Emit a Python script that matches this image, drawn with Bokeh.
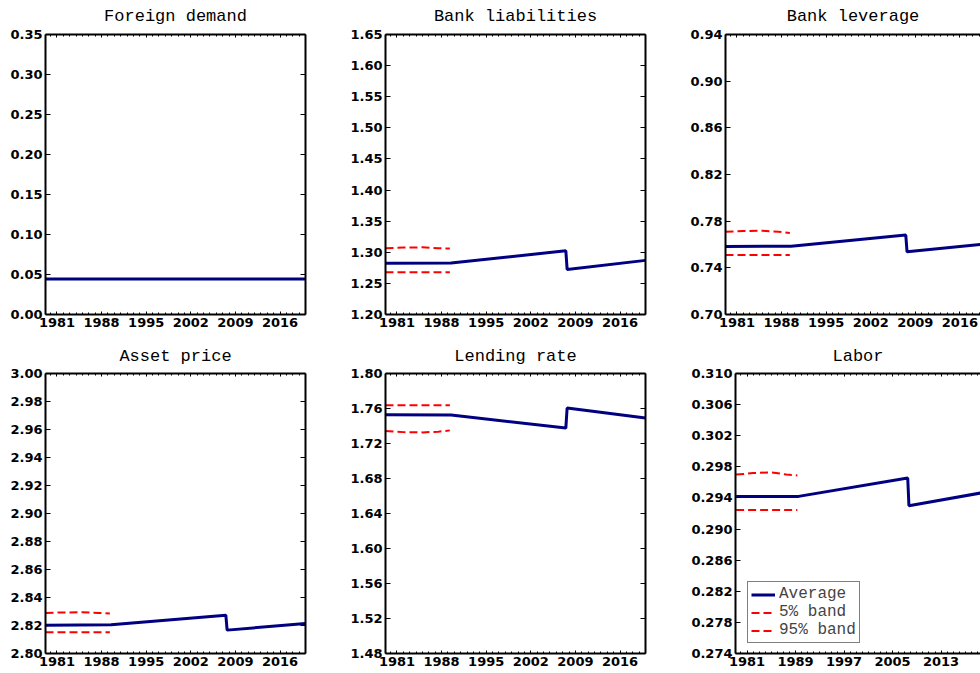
from bokeh.plotting import figure
from bokeh.layouts import column, row
from bokeh.models import (Range1d, FixedTicker, PrintfTickFormatter, LinearAxis,
                          Legend, LegendItem, Title)
from bokeh.embed import file_html
from bokeh.resources import INLINE

# ---------------- data ----------------
years_avg = [1979.2, 1989.5, 2007.5, 2007.7, 2020.0]
years_band = [1979.2, 1982.0, 1985.0, 1987.5, 1989.3]
year_ticks_7 = [1981, 1988, 1995, 2002, 2009, 2016]
year_ticks_8 = [1981, 1989, 1997, 2005, 2013]
minor_years = list(range(1979, 2021))

titles = ["Foreign demand", "Bank liabilities", "Bank leverage",
          "Asset price", "Lending rate", "Labor"]

foreign_avg = [0.0445, 0.0445, 0.0445, 0.0445, 0.0445]

liab_avg = [1.2824, 1.2828, 1.3024, 1.2725, 1.2870]
liab_lo = [1.2680, 1.2680, 1.2680, 1.2680, 1.2680]
liab_hi = [1.3065, 1.3075, 1.3080, 1.3065, 1.3060]

lev_avg = [0.7583, 0.7585, 0.7681, 0.7537, 0.7604]
lev_lo = [0.7511, 0.7511, 0.7511, 0.7511, 0.7511]
lev_hi = [0.7709, 0.7715, 0.7718, 0.7710, 0.7698]

asset_avg = [2.8202, 2.8205, 2.8274, 2.8167, 2.8214]
asset_lo = [2.8152, 2.8152, 2.8152, 2.8152, 2.8152]
asset_hi = [2.8290, 2.8293, 2.8295, 2.8290, 2.8286]

lend_avg = [1.7529, 1.7525, 1.7376, 1.7606, 1.7491]
lend_lo = [1.7342, 1.7330, 1.7327, 1.7335, 1.7350]
lend_hi = [1.7636, 1.7636, 1.7636, 1.7636, 1.7636]

labor_avg = [0.29418, 0.29420, 0.29657, 0.29300, 0.29470]
labor_lo = [0.29246, 0.29246, 0.29246, 0.29246, 0.29246]
labor_hi = [0.29700, 0.29720, 0.29730, 0.29700, 0.29690]

yt_foreign = [0.00, 0.05, 0.10, 0.15, 0.20, 0.25, 0.30, 0.35]
yt_liab = [1.20, 1.25, 1.30, 1.35, 1.40, 1.45, 1.50, 1.55, 1.60, 1.65]
yt_lev = [0.70, 0.74, 0.78, 0.82, 0.86, 0.90, 0.94]
yt_asset = [2.80, 2.82, 2.84, 2.86, 2.88, 2.90, 2.92, 2.94, 2.96, 2.98, 3.00]
yt_lend = [1.48, 1.52, 1.56, 1.60, 1.64, 1.68, 1.72, 1.76, 1.80]
yt_labor = [0.274, 0.278, 0.282, 0.286, 0.290, 0.294, 0.298, 0.302, 0.306, 0.310]

NAVY = "#000080"
RED = "#ff0000"
TICK_FONT = "DejaVu Sans"
TITLE_FONT = "Liberation Mono"
FULL_XR = (1979.2, 2020.0)


def style_axis(ax, labels, tick_in, minor_in=0):
    ax.axis_line_width = 2
    ax.axis_line_color = "black"
    ax.major_tick_in = tick_in
    ax.major_tick_out = 0
    ax.minor_tick_in = minor_in
    ax.minor_tick_out = 0
    ax.major_tick_line_color = "black"
    ax.minor_tick_line_color = "black"
    ax.major_tick_line_width = 1
    ax.minor_tick_line_width = 1
    if labels:
        ax.major_label_text_font = TICK_FONT
        ax.major_label_text_font_size = "13px"
        ax.major_label_text_font_style = "bold"
        ax.major_label_text_color = "black"
        ax.major_label_standoff = 3
    else:
        ax.major_label_text_font_size = "0px"
        ax.major_label_text_alpha = 0
        ax.major_label_standoff = 0


def panel(title, avg, lo, hi, yticks, fmt, xr, xticks, mb_left, frame_w,
          mb_right, mb_top, mb_bottom, title_standoff, right_axis=True,
          legend=False, title_offset=0):
    p = figure(frame_width=frame_w, frame_height=280,
               min_border_left=mb_left, min_border_right=mb_right,
               min_border_top=mb_top, min_border_bottom=mb_bottom,
               x_range=Range1d(xr[0], xr[1]),
               y_range=Range1d(yticks[0], yticks[-1]),
               x_axis_location=None, y_axis_location=None,
               output_backend="svg", toolbar_location=None, title=None)
    p.outline_line_color = None
    p.background_fill_color = "white"
    p.border_fill_color = "white"
    p.xgrid.visible = False
    p.ygrid.visible = False

    xt = FixedTicker(ticks=xticks, minor_ticks=minor_years)
    yt = FixedTicker(ticks=yticks, minor_ticks=[])

    bx = LinearAxis(ticker=xt)
    style_axis(bx, True, 3, 2)
    p.add_layout(bx, "below")
    ly = LinearAxis(ticker=yt, formatter=PrintfTickFormatter(format=fmt))
    style_axis(ly, True, 5)
    p.add_layout(ly, "left")
    ax = LinearAxis(ticker=xt)
    style_axis(ax, False, 3, 2)
    p.add_layout(ax, "above")
    if right_axis:
        ry = LinearAxis(ticker=yt)
        style_axis(ry, False, 5)
        p.add_layout(ry, "right")

    p.add_layout(Title(text=title, align="center", text_font=TITLE_FONT,
                       text_font_size="17px", text_font_style="normal",
                       text_color="black", standoff=title_standoff,
                       vertical_align="top", offset=title_offset), "above")

    r_avg = p.line(years_avg, avg, line_color=NAVY, line_width=3)
    items = [LegendItem(label="Average", renderers=[r_avg])]
    if lo is not None:
        r_lo = p.line(years_band, lo, line_color=RED, line_width=2,
                      line_dash="8 4")
        r_hi = p.line(years_band, hi, line_color=RED, line_width=2,
                      line_dash="8 4")
        items += [LegendItem(label="5% band", renderers=[r_lo]),
                  LegendItem(label="95% band", renderers=[r_hi])]
    if legend:
        lg = Legend(items=items, location=(12, 10),
                    label_text_font=TITLE_FONT, label_text_font_size="16px",
                    label_text_line_height=0.75,
                    border_line_color="black", border_line_width=1,
                    background_fill_color="white", background_fill_alpha=1,
                    padding=3, spacing=0, margin=0, glyph_width=24,
                    glyph_height=15, label_height=15, label_standoff=4)
        p.add_layout(lg)
    return p


p1 = panel(titles[0], foreign_avg, None, None, yt_foreign, "%.2f", FULL_XR,
           year_ticks_7, 45, 260, 25, 34, 26, 13)
p2 = panel(titles[1], liab_avg, liab_lo, liab_hi, yt_liab, "%.2f", FULL_XR,
           year_ticks_7, 55, 260, 25, 34, 26, 13)
p3 = panel(titles[2], lev_avg, lev_lo, lev_hi, yt_lev, "%.2f",
           (1979.2, 2019.23), year_ticks_7, 55, 255, 0, 34, 26, 13,
           right_axis=False, title_offset=3)
p4 = panel(titles[3], asset_avg, asset_lo, asset_hi, yt_asset, "%.2f", FULL_XR,
           year_ticks_7, 45, 260, 25, 33, 20, 12)
p5 = panel(titles[4], lend_avg, lend_lo, lend_hi, yt_lend, "%.2f", FULL_XR,
           year_ticks_7, 55, 260, 25, 33, 20, 12)
p6 = panel(titles[5], labor_avg, labor_lo, labor_hi, yt_labor, "%.3f",
           (1979.1, 2019.5), year_ticks_8, 65, 245, 0, 33, 20, 12,
           right_axis=False, legend=True, title_offset=3)

layout = column(row(p1, p2, p3, spacing=0), row(p4, p5, p6, spacing=0),
                spacing=0)

open("out.html", "w").write(file_html(layout, INLINE))
